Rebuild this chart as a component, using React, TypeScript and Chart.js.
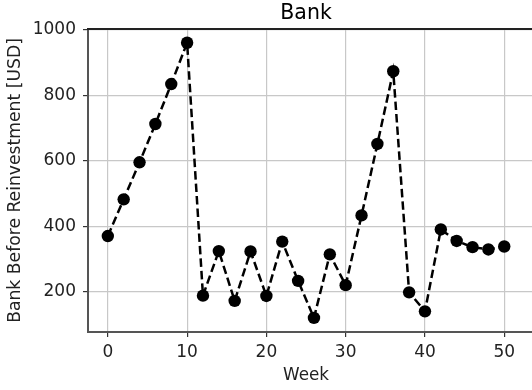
import React, { useEffect, useRef } from "react";
import { Chart, registerables } from "chart.js";

Chart.register(...registerables);

const weeks = [0, 2, 4, 6, 8, 10, 12, 14, 16, 18, 20, 22, 24, 26, 28, 30, 32, 34, 36, 38, 40, 42, 44, 46, 48, 50];
const bank = [371, 483, 596, 713, 835, 961, 189, 325, 173, 324, 188, 354, 234, 121, 315, 221, 434, 652, 874, 199, 141, 391, 356, 337, 330, 339];
const xTicks = [0, 10, 20, 30, 40, 50];
const yTicks = [200, 400, 600, 800, 1000];
const chartTitle = "Bank";
const xLabel = "Week";
const yLabel = "Bank Before Reinvestment [USD]";

const FONT = "'DejaVu Sans', 'Liberation Sans', sans-serif";

export default function App() {
  const ref = useRef<HTMLCanvasElement | null>(null);

  useEffect(() => {
    if (!ref.current) return;
    const textPlugin = {
      id: "mplText",
      afterDraw(chart: any) {
        const { ctx, chartArea } = chart;
        const xs = chart.scales.x;
        const cx = xs.getPixelForValue(25);
        ctx.save();
        // top spine
        ctx.strokeStyle = "#222222";
        ctx.lineWidth = 2;
        ctx.beginPath();
        ctx.moveTo(chartArea.left - 1, chartArea.top);
        ctx.lineTo(chartArea.right, chartArea.top);
        ctx.stroke();
        ctx.fillStyle = "#000000";
        ctx.textAlign = "center";
        ctx.textBaseline = "middle";
        ctx.font = `20.5px ${FONT}`;
        ctx.fillText(chartTitle, cx, 14);
        ctx.font = `16.8px ${FONT}`;
        ctx.fillStyle = "#222222";
        ctx.fillText(xLabel, cx, 376);
        ctx.restore();
      },
    };

    const chart = new Chart(ref.current, {
      type: "line",
      data: {
        datasets: [
          {
            label: chartTitle,
            data: weeks.map((w, i) => ({ x: w, y: bank[i] })),
            borderColor: "#000000",
            borderWidth: 2.5,
            borderDash: [8.5, 4],
            pointRadius: 6.2,
            pointHoverRadius: 6.2,
            pointBackgroundColor: "#000000",
            pointBorderWidth: 0,
            tension: 0,
            fill: false,
          },
        ],
      },
      options: {
        animation: false,
        responsive: false,
        devicePixelRatio: 1,
        layout: { autoPadding: false, padding: { top: 29, left: 0, right: 0, bottom: 0 } },
        plugins: {
          legend: { display: false },
          title: { display: false },
          tooltip: { enabled: false },
        },
        scales: {
          x: {
            type: "linear",
            min: -2.5,
            max: 53.5,
            afterFit: (s: any) => {
              s.height = 58;
              s.paddingLeft = 0;
              s.paddingRight = 0;
            },
            afterBuildTicks: (s: any) => {
              s.ticks = xTicks.map((v) => ({ value: v }));
            },
            grid: {
              color: "#c8c8c8",
              lineWidth: 1.2,
              tickLength: 5,
              tickColor: "#333333",
            },
            border: { color: "#555555", width: 2 },
            ticks: {
              color: "#222222",
              font: { family: FONT, size: 17 },
              padding: 5,
              maxRotation: 0,
              autoSkip: false,
              callback: (v: any) => String(v),
            },
          },
          y: {
            type: "linear",
            min: 78,
            max: 1003,
            afterFit: (s: any) => {
              s.width = 88;
              s.paddingTop = 0;
              s.paddingBottom = 0;
            },
            afterBuildTicks: (s: any) => {
              s.ticks = yTicks.map((v) => ({ value: v }));
            },
            grid: {
              color: "#c8c8c8",
              lineWidth: 1.2,
              tickLength: 5,
              tickColor: "#333333",
            },
            border: { color: "#555555", width: 2 },
            ticks: {
              color: "#222222",
              font: { family: FONT, size: 17 },
              padding: 7,
              autoSkip: false,
              callback: (v: any) => String(v),
            },
            title: {
              display: true,
              text: yLabel,
              color: "#222222",
              font: { family: FONT, size: 17.2 },
              padding: { top: 5, bottom: 0 },
            },
          },
        },
      },
      plugins: [textPlugin],
    });
    return () => chart.destroy();
  }, []);

  return (
    <div style={{ position: "fixed", left: 0, top: 0, width: 532, height: 390, background: "#ffffff" }}>
      <canvas ref={ref} width={532} height={390} style={{ display: "block" }} />
    </div>
  );
}
